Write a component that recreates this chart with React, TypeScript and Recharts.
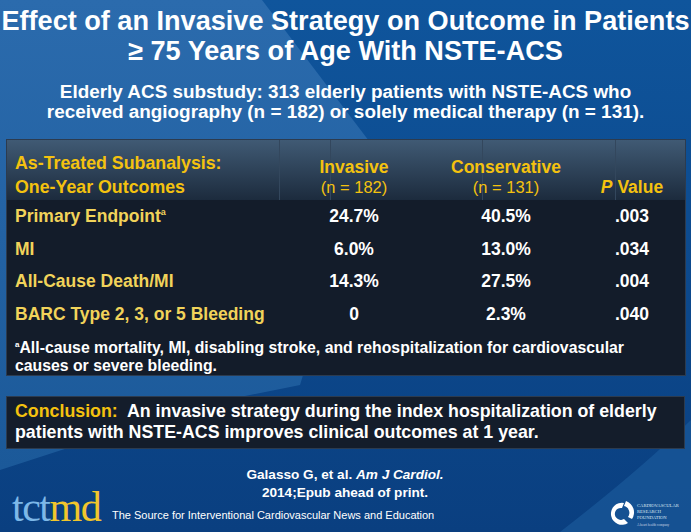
import { ScatterChart, Scatter, XAxis, YAxis } from "recharts";

// table content
const rowLabels = ["Primary Endpoint", "MI", "All-Cause Death/MI", "BARC Type 2, 3, or 5 Bleeding"];
const rowNotes = ["a", "", "", ""];
const invasive = ["24.7%", "6.0%", "14.3%", "0"];
const conservative = ["40.5%", "13.0%", "27.5%", "2.3%"];
const pValues = [".003", ".034", ".004", ".040"];

const headerLine1 = ["As-Treated Subanalysis:", "Invasive", "Conservative", ""];
const headerLine2 = ["One-Year Outcomes", "(n = 182)", "(n = 131)", "P Value"];

// column centres inside the table box (px from its left edge)
const COL_X = [8, 347, 499, 625];
const TABLE_W = 678;
const TABLE_H = 235;

const YELLOW = "#f4c20f";
const ROW_YELLOW = "#f1d35a";
const FONT = "'Liberation Sans', Arial, sans-serif";

const labelColumn = rowLabels.map((row, i) => ({ row, x: COL_X[0], text: row, note: rowNotes[i] }));
const columns = [invasive, conservative, pValues].map((vals, c) =>
  rowLabels.map((row, i) => ({ row, x: COL_X[c + 1], text: vals[i], note: "" }))
);

function CellText(props: any) {
  const { cx, cy, payload } = props;
  if (cx == null || cy == null) return null;
  return (
    <text x={cx} y={cy} dy="0.35em" textAnchor="middle" fill="#ffffff"
      fontFamily={FONT} fontWeight="bold" fontSize={17.5}>
      {payload.text}
    </text>
  );
}

function LabelText(props: any) {
  const { cx, cy, payload } = props;
  if (cx == null || cy == null) return null;
  return (
    <text x={cx} y={cy} dy="0.35em" textAnchor="start" fill={ROW_YELLOW}
      fontFamily={FONT} fontWeight="bold" fontSize={17.5}>
      {payload.text}
      {payload.note ? <tspan fontSize={9} dy="-7">{payload.note}</tspan> : null}
    </text>
  );
}

function HeaderTick(props: any) {
  const { x, payload } = props;
  const idx = COL_X.indexOf(payload.value);
  if (idx < 0) return null;
  const anchor = idx === 0 ? "start" : "middle";
  const size = idx === 0 ? 17.8 : 17.5;
  const thin = idx === 1 || idx === 2;
  return (
    <g>
      {headerLine1[idx] && (
        <text x={x} y={idx === 0 ? 23 : 27} dy="0.35em" textAnchor={anchor} fill={YELLOW}
          fontFamily={FONT} fontWeight="bold" fontSize={size}>
          {headerLine1[idx]}
        </text>
      )}
      <text x={x} y={47} dy="0.35em" textAnchor={anchor} fill={YELLOW}
        fontFamily={FONT} fontWeight={thin ? "normal" : "bold"} fontSize={thin ? 16.5 : size}>
        {idx === 3 ? (
          <>
            <tspan fontStyle="italic">P</tspan> Value
          </>
        ) : (
          headerLine2[idx]
        )}
      </text>
    </g>
  );
}

function OutcomeTable() {
  return (
    <ScatterChart width={TABLE_W} height={TABLE_H} margin={{ top: 0, right: 0, bottom: 45, left: 0 }}>
      <XAxis
        type="number"
        dataKey="x"
        orientation="top"
        domain={[0, TABLE_W]}
        ticks={COL_X}
        height={60}
        axisLine={false}
        tickLine={false}
        tick={<HeaderTick />}
        allowDataOverflow
      />
      <YAxis type="category" dataKey="row" width={0} reversed allowDuplicatedCategory={false} hide />
      <Scatter data={labelColumn} shape={<LabelText />} isAnimationActive={false} />
      {columns.map((data, c) => (
        <Scatter key={c} data={data} shape={<CellText />} isAnimationActive={false} />
      ))}
    </ScatterChart>
  );
}

export default function App() {
  const white = { color: "#ffffff", fontFamily: FONT, fontWeight: "bold" as const };
  return (
    <div style={{ position: "relative", width: 691, height: 532, overflow: "hidden", background: "#0d4c90" }}>
      <style>{`body{margin:0}`}</style>
      <svg width={691} height={532} style={{ position: "absolute", left: 0, top: 0 }}>
        <defs>
          <linearGradient id="bgR" x1="0" y1="0" x2="0" y2="1">
            <stop offset="0" stopColor="#0f559c" />
            <stop offset="1" stopColor="#0a3f80" />
          </linearGradient>
          <linearGradient id="bgL" x1="0" y1="0" x2="0" y2="1">
            <stop offset="0" stopColor="#2b6bad" />
            <stop offset="1" stopColor="#1b5999" />
          </linearGradient>
        </defs>
        <rect width={691} height={532} fill="url(#bgR)" />
        <polygon points="0,0 262,0 372,145 300,385 200,405 0,470" fill="url(#bgL)" />
        <path d="M560,532 Q640,470 691,420 L691,532 Z" fill="#1c5e9f" opacity={0.6} />
      </svg>

      <div style={{ ...white, position: "absolute", left: -40, width: 771, top: 6, textAlign: "center", fontSize: 27.1, lineHeight: "30px", whiteSpace: "nowrap" }}>
        Effect of an Invasive Strategy on Outcome in Patients
        <br />
        ≥ 75 Years of Age With NSTE-ACS
      </div>
      <div style={{ ...white, position: "absolute", left: 0, width: 691, top: 82, textAlign: "center", fontSize: 18.9, lineHeight: "20px", whiteSpace: "nowrap" }}>
        Elderly ACS substudy: 313 elderly patients with NSTE-ACS who
        <br />
        received angiography (n = 182) or solely medical therapy (n = 131).
      </div>

      <div style={{ position: "absolute", left: 7, top: 140, width: TABLE_W, height: TABLE_H, background: "#131c2a", boxShadow: "0 0 0 1px #2c3b4f" }}>
        <div style={{ position: "absolute", left: 0, top: 0, width: TABLE_W, height: 60, background: "linear-gradient(#405a74, #1c2b3d)" }} />
        <div style={{ position: "absolute", left: 272, top: 0, width: 1, height: 60, background: "#33475d" }} />
        <div style={{ position: "absolute", left: 323, top: 0, width: 1, height: 60, background: "#33475d" }} />
        <div style={{ position: "absolute", left: 475, top: 0, width: 1, height: 60, background: "#33475d" }} />
        <div style={{ position: "absolute", left: 608, top: 0, width: 1, height: 60, background: "#33475d" }} />
        <div style={{ position: "absolute", left: 0, top: 0 }}>
          <OutcomeTable />
        </div>
        <div style={{ ...white, position: "absolute", left: 8, top: 196, fontSize: 15.8, lineHeight: "18px", whiteSpace: "nowrap" }}>
          <sup style={{ fontSize: 8 }}>a</sup>All-cause mortality, MI, disabling stroke, and rehospitalization for cardiovascular
          <br />
          causes or severe bleeding.
        </div>
      </div>

      <div style={{ position: "absolute", left: 7, top: 397, width: 677, height: 51, background: "#141d2b", boxShadow: "0 0 0 1px #2c3b4f" }}>
        <div style={{ ...white, position: "absolute", left: 8, top: 4, fontSize: 17.8, lineHeight: "21px", whiteSpace: "nowrap" }}>
          <span style={{ color: YELLOW }}>Conclusion:</span>&nbsp; An invasive strategy during the index hospitalization of elderly
          <br />
          patients with NSTE-ACS improves clinical outcomes at 1 year.
        </div>
      </div>

      <div style={{ ...white, position: "absolute", left: 195, width: 300, top: 466, textAlign: "center", fontSize: 13.6, lineHeight: "18px", whiteSpace: "nowrap" }}>
        Galasso G, et al. <i>Am J Cardiol.</i>
        <br />
        2014;Epub ahead of print.
      </div>

      <div style={{ position: "absolute", left: 12, top: 488, fontFamily: "'Liberation Serif', serif", fontSize: 42, lineHeight: "38px", letterSpacing: -1.5 }}>
        <span style={{ color: "#7db8e8" }}>tct</span>
        <span style={{ color: "#f2c62c" }}>md</span>
      </div>
      <div style={{ position: "absolute", left: 112, top: 509, fontFamily: FONT, fontSize: 11, color: "#ffffff", whiteSpace: "nowrap" }}>
        The Source for Interventional Cardiovascular News and Education
      </div>

      <svg width={80} height={40} style={{ position: "absolute", left: 608, top: 495 }}>
        <path d="M16,8 A11,11 0 1 0 20,28 L16,24 A6,6 0 1 1 14,13 Z" fill="#ffffff" />
        <path d="M18,6 A12,12 0 0 1 24,24 L20,22 A7,7 0 0 0 16,11 Z" fill="#ffffff" />
        <text x={29} y={12} fill="#dfe8f2" fontSize={4.6} fontFamily="'Liberation Serif', serif">CARDIOVASCULAR</text>
        <text x={29} y={18} fill="#dfe8f2" fontSize={4.6} fontFamily="'Liberation Serif', serif">RESEARCH</text>
        <text x={29} y={24} fill="#dfe8f2" fontSize={4.6} fontFamily="'Liberation Serif', serif">FOUNDATION</text>
        <text x={29} y={31} fill="#c8d4e2" fontSize={3.4} fontFamily="'Liberation Serif', serif">A heart health company</text>
      </svg>
    </div>
  );
}
